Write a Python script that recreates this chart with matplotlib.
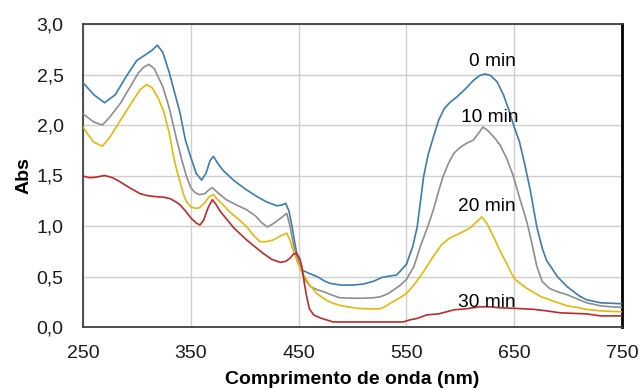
import matplotlib
matplotlib.use("Agg")
import matplotlib.pyplot as plt
from matplotlib.ticker import FuncFormatter

plt.rcParams['font.family'] = ['Liberation Sans', 'DejaVu Sans']

# ---- data ----
x0 = [250, 260, 270, 280, 290, 300, 310, 314, 319, 324, 330, 335, 340, 345, 350, 355, 360, 364, 368, 371,
      375, 380, 390, 400, 410, 420, 430, 435, 438, 441, 444, 447, 450, 453, 460, 467, 475, 480, 490, 500,
      510, 520, 527, 532, 541, 550, 556, 560, 566, 570, 575, 580, 585, 590, 597, 605, 612, 618, 623, 628,
      634, 640, 645, 650, 655, 660, 665, 671, 676, 680, 690, 699, 710, 717, 730, 740, 750]
y0 = [2.42, 2.30, 2.22, 2.30, 2.48, 2.64, 2.71, 2.74, 2.79, 2.72, 2.52, 2.32, 2.12, 1.85, 1.68, 1.52, 1.455, 1.52, 1.65, 1.69,
      1.62, 1.55, 1.45, 1.37, 1.30, 1.24, 1.20, 1.21, 1.225, 1.15, 0.99, 0.80, 0.64, 0.565, 0.53, 0.50, 0.45, 0.43, 0.415, 0.415,
      0.425, 0.455, 0.49, 0.50, 0.515, 0.62, 0.80, 0.99, 1.49, 1.70, 1.88, 2.05, 2.16, 2.22, 2.28, 2.36, 2.44, 2.49, 2.505, 2.49,
      2.43, 2.30, 2.15, 1.98, 1.83, 1.60, 1.35, 0.99, 0.78, 0.66, 0.50, 0.40, 0.31, 0.27, 0.24, 0.235, 0.23]

x10 = [250, 260, 268, 275, 285, 295, 301, 306, 311, 316, 324, 330, 337, 342, 346, 350, 354, 358, 363, 367,
       370, 375, 383, 392, 402, 410, 416, 421, 426, 433, 439, 442, 445, 448, 451, 456, 461, 467, 473, 480,
       488, 500, 510, 520, 526, 533, 538, 544, 550, 557, 563, 570, 575, 580, 584, 589, 594, 600, 606, 612,
       617, 621, 626, 632, 637, 643, 649, 655, 662, 667, 671, 676, 683, 690, 699, 708, 717, 730, 740, 750]
y10 = [2.11, 2.03, 2.00, 2.08, 2.22, 2.40, 2.51, 2.57, 2.60, 2.56, 2.38, 2.17, 1.85, 1.64, 1.49, 1.38, 1.33, 1.31, 1.32, 1.36,
       1.38, 1.33, 1.26, 1.21, 1.16, 1.10, 1.03, 0.99, 1.02, 1.075, 1.125, 1.00, 0.83, 0.70, 0.60, 0.47, 0.40, 0.37, 0.35, 0.32,
       0.29, 0.285, 0.285, 0.29, 0.30, 0.33, 0.366, 0.41, 0.47, 0.60, 0.80, 1.00, 1.16, 1.35, 1.49, 1.62, 1.72, 1.78, 1.82, 1.85,
       1.92, 1.98, 1.94, 1.87, 1.80, 1.67, 1.50, 1.28, 1.03, 0.80, 0.60, 0.45, 0.38, 0.35, 0.32, 0.28, 0.24, 0.21, 0.20, 0.195]

x20 = [250, 255, 260, 268, 275, 285, 295, 303, 309, 314, 320, 325, 330, 334, 337, 340, 343, 346, 350, 354,
       358, 363, 367, 371, 375, 380, 386, 394, 402, 408, 414, 420, 426, 433, 439, 442, 445, 449, 454, 460,
       467, 475, 482, 490, 504, 515, 525, 530, 535, 541, 550, 558, 566, 575, 583, 590, 600, 609, 615, 620,
       625, 631, 637, 643, 648, 651, 658, 665, 675, 688, 699, 710, 717, 730, 740, 750]
y20 = [1.98, 1.90, 1.83, 1.79, 1.88, 2.05, 2.22, 2.35, 2.40, 2.37, 2.26, 2.13, 1.92, 1.69, 1.55, 1.44, 1.32, 1.24, 1.19, 1.175,
       1.18, 1.23, 1.29, 1.31, 1.26, 1.21, 1.14, 1.07, 0.99, 0.91, 0.845, 0.845, 0.86, 0.90, 0.93, 0.86, 0.76, 0.64, 0.53, 0.42,
       0.33, 0.27, 0.235, 0.21, 0.185, 0.18, 0.18, 0.20, 0.235, 0.27, 0.33, 0.43, 0.55, 0.70, 0.82, 0.88, 0.93, 0.98, 1.04, 1.09,
       1.02, 0.89, 0.75, 0.63, 0.52, 0.47, 0.41, 0.36, 0.30, 0.25, 0.21, 0.19, 0.175, 0.16, 0.155, 0.15]

x30 = [250, 255, 260, 265, 270, 277, 284, 293, 303, 310, 318, 325, 331, 336, 340, 345, 350, 355, 358.5, 362,
       366, 370, 373, 377, 380, 390, 402, 410, 417, 425, 433, 438, 442, 445, 448, 451, 453, 455.5, 457.5, 460,
       464, 470, 476, 482, 500, 520, 540, 547, 553, 560, 569, 580, 594, 605, 618, 627, 637, 650, 668, 680,
       693, 705, 717, 730, 750]
y30 = [1.495, 1.48, 1.48, 1.49, 1.50, 1.48, 1.44, 1.38, 1.32, 1.30, 1.29, 1.285, 1.27, 1.24, 1.21, 1.15, 1.08, 1.03, 1.01, 1.06,
       1.18, 1.26, 1.22, 1.15, 1.11, 0.98, 0.86, 0.79, 0.73, 0.67, 0.64, 0.65, 0.68, 0.72, 0.73, 0.68, 0.60, 0.42, 0.30, 0.18,
       0.12, 0.09, 0.07, 0.05, 0.05, 0.05, 0.05, 0.05, 0.07, 0.085, 0.12, 0.13, 0.17, 0.18, 0.20, 0.20, 0.19, 0.185, 0.175, 0.16,
       0.14, 0.135, 0.13, 0.11, 0.11]

labels = ["0 min", "10 min", "20 min", "30 min"]
label_x = [630, 627, 625, 625]
label_y = [2.63, 2.07, 1.19, 0.24]
colors = ["#3a7db2", "#8e8e8e", "#e8b70a", "#be2a2a"]

x_ticks = [250, 350, 450, 550, 650, 750]
y_ticks = [0.0, 0.5, 1.0, 1.5, 2.0, 2.5, 3.0]

# ---- figure ----
W, H = 641, 390
L, R, B, T = 83, 622, 327, 24
fig = plt.figure(figsize=(W / 100, H / 100), dpi=100)
ax = fig.add_axes([L / W, 1 - B / H, (R - L) / W, (B - T) / H])

for xs, ys, c in zip([x0, x10, x20, x30], [y0, y10, y20, y30], colors):
    ax.plot(xs, ys, color=c, lw=1.2, solid_joinstyle='round', zorder=3)

for t, lx, ly in zip(labels, label_x, label_y):
    ax.text(lx, ly, t, ha='center', va='center', fontsize=13.8, color='black', zorder=4)

ax.set_xlim(250, 750)
ax.set_ylim(0, 3.0)
ax.set_xticks(x_ticks)
ax.set_yticks(y_ticks)
ax.yaxis.set_major_formatter(FuncFormatter(lambda v, p: f"{v:.1f}".replace('.', ',')))
ax.grid(True, color='#cfcfcf', lw=1.0, zorder=0)
ax.tick_params(axis='both', length=0, labelsize=14, colors='#1a1a1a')
ax.tick_params(axis='x', pad=13)
ax.tick_params(axis='y', pad=14)

for s in ['left', 'bottom', 'top']:
    ax.spines[s].set_color('#404040')
    ax.spines[s].set_linewidth(1.3)
ax.spines['right'].set_color('black')
ax.spines['right'].set_linewidth(2.0)

ax.set_xlabel("Comprimento de onda (nm)", fontsize=14, fontweight='bold', va='center')
ax.xaxis.set_label_coords(0.5, (B - 379) / (B - T))
ax.set_ylabel("Abs", fontsize=14, fontweight='bold', va='center')
ax.yaxis.set_label_coords((24.5 - L) / (R - L), 0.5)

fig.savefig("out.png", dpi=100)
